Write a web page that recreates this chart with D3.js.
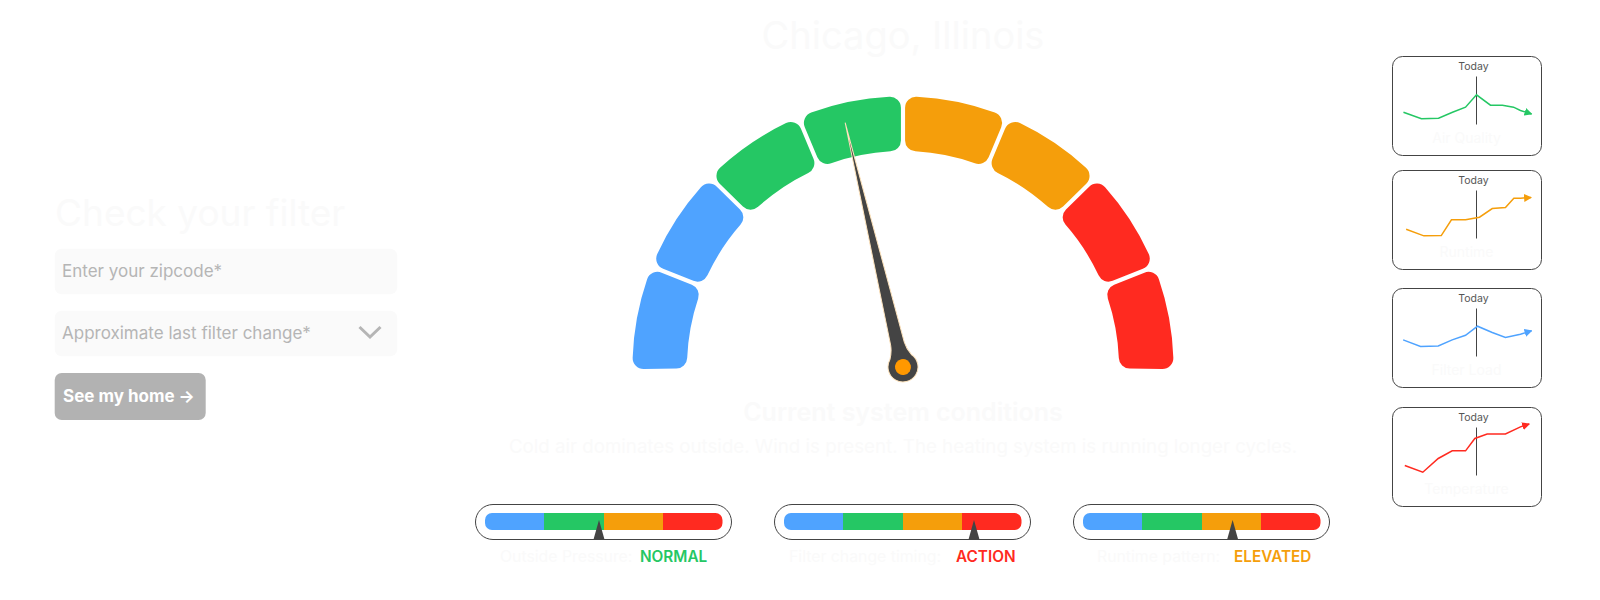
<!DOCTYPE html>
<html>
<head>
<meta charset="utf-8">
<script src="https://cdn.jsdelivr.net/npm/d3@7"></script>
<style>
html, body { margin: 0; padding: 0; background: #fff; }
svg { display: block; }
text { font-family: "Inter", "Noto Sans", sans-serif; }
</style>
</head>
<body>
<div id="chart"></div>
<script>
var colors = { blue: "#4fa3ff", green: "#25c764", orange: "#f59e0b", red: "#ff2a20" };

var gaugeBands = ["blue", "blue", "green", "green", "orange", "orange", "red", "red"];
var needleValue = 42.6;

var meterBands = ["blue", "green", "orange", "red"];
var meterLabels = ["Outside Pressure:", "Filter change timing:", "Runtime pattern:"];
var meterStates = ["NORMAL", "ACTION", "ELEVATED"];
var meterStateColors = ["green", "red", "orange"];
var meterValues = [48, 80, 63];

var sparkNames = ["Air Quality", "Runtime", "Filter Load", "Temperature"];
var sparkColors = ["green", "orange", "blue", "red"];
var sparkX = [
    [7.3, 19.3, 30.7, 40, 48.7, 56, 65.3, 73.3, 80.7, 85.3, 92.7],
    [9.1, 20.9, 32.5, 39.3, 48.7, 58, 66.5, 75.3, 80.9, 85.3, 92.4],
    [7.1, 18.7, 30.5, 39.8, 48.7, 56.7, 66.5, 75.3, 85.3, 92.7],
    [8.2, 20.2, 30.5, 39.8, 48.7, 54.9, 63.1, 75.3, 85.3, 91.1]
];
var sparkY = [
    [43.7, 37.1, 37.7, 43.7, 48.8, 61.3, 50.8, 50.8, 48.8, 45.5, 42],
    [40.7, 34, 34.3, 50.2, 50.2, 52.8, 61.6, 62.6, 72, 72, 72.7],
    [48.1, 41.4, 42, 48.1, 52.8, 61.9, 55.6, 50.5, 53.8, 57.3],
    [41.4, 34.6, 48.5, 56.2, 56.2, 68.7, 73.3, 73.3, 80.4, 83.3]
];

var faint = "#fafafa";
var svg = d3.select("#chart").append("svg").attr("width", 1600).attr("height", 600);

// left form
var form = svg.append("g").attr("class", "form");
form.append("text").attr("x", 55).attr("y", 226).attr("font-size", 37).attr("fill", faint).text("Check your filter");
[248.7, 310.7].forEach(function(y) {
    form.append("rect").attr("x", 54.7).attr("y", y).attr("width", 342.5).attr("height", 45.5).attr("rx", 7).attr("fill", "#fafafa");
});
form.append("text").attr("x", 62).attr("y", 276.5).attr("font-size", 17).attr("fill", "#b5b5b5").text("Enter your zipcode*");
form.append("text").attr("x", 62).attr("y", 339).attr("font-size", 17).attr("fill", "#b5b5b5").text("Approximate last filter change*");
form.append("path").attr("d", "M359.5,327L370,337L380.5,327").attr("fill", "none").attr("stroke", "#b5b5b5").attr("stroke-width", 3);
form.append("rect").attr("x", 54.7).attr("y", 373).attr("width", 151).attr("height", 47).attr("rx", 7).attr("fill", "#b2b2b2");
form.append("text").attr("x", 63).attr("y", 402).attr("font-size", 17).attr("font-weight", 700).attr("fill", "#fff").text("See my home \u2192");

// headings
var midX = 903;
svg.append("text").attr("x", midX).attr("y", 49).attr("text-anchor", "middle").attr("font-size", 38).attr("fill", faint).text("Chicago, Illinois");
svg.append("text").attr("x", midX).attr("y", 421).attr("text-anchor", "middle").attr("font-size", 25).attr("font-weight", 600).attr("fill", faint).text("Current system conditions");
svg.append("text").attr("x", midX).attr("y", 453).attr("text-anchor", "middle").attr("font-size", 18.7).attr("fill", faint).text("Cold air dominates outside. Wind is present. The heating system is running longer cycles.");

// main gauge
var gauge = svg.append("g").attr("transform", "translate(" + midX + ",367)");
var pie = d3.pie().value(1).sort(null).startAngle(-Math.PI / 2 - 0.016).endAngle(Math.PI / 2 + 0.016);
var arc = d3.arc().innerRadius(216).outerRadius(270.5).cornerRadius(11).padAngle(0.012);
gauge.selectAll("path.band")
    .data(pie(gaugeBands))
    .enter().append("path")
    .attr("class", "band")
    .attr("d", arc)
    .attr("fill", function(d) { return colors[d.data]; });

var needleScale = d3.scaleLinear().domain([0, 100]).range([-90, 90]);
var needle = gauge.append("g").attr("transform", "rotate(" + needleScale(needleValue) + ")");
needle.append("path")
    .attr("d", "M0,-251L7,-24Q7.5,-17 11,-10.2A15,15 0 1 1 -11,-10.2Q-7.5,-17 -7,-24Z")
    .attr("fill", "#444")
    .attr("stroke", "#fde3bd")
    .attr("stroke-width", 1);
needle.append("circle").attr("r", 8).attr("fill", "#ff9800");

// small meters
var meterX = [475.5, 774.5, 1073.5];
var meterLabelX = [500, 789, 1097];
var meterStateX = [640, 956, 1234];
var meterScale = d3.scaleLinear().domain([0, 100]).range([9.5, 247]);
var bandScale = d3.scaleBand().domain(meterBands).range([9.5, 247]);

meterValues.forEach(function(value, i) {
    var g = svg.append("g").attr("transform", "translate(" + meterX[i] + ",504.5)");
    g.append("rect").attr("width", 256).attr("height", 35).attr("rx", 17.5)
        .attr("fill", "#fff").attr("stroke", "#444").attr("stroke-width", 1);
    svg.append("clipPath").attr("id", "meter" + i)
        .append("rect").attr("x", 9.5).attr("y", 8.5).attr("width", 237.5).attr("height", 17).attr("rx", 7);
    g.append("g").attr("clip-path", "url(#meter" + i + ")")
        .selectAll("rect")
        .data(meterBands)
        .enter().append("rect")
        .attr("x", function(d) { return bandScale(d); })
        .attr("y", 8.5)
        .attr("width", bandScale.bandwidth())
        .attr("height", 17)
        .attr("shape-rendering", "crispEdges")
        .attr("fill", function(d) { return colors[d]; });
    var mx = meterScale(value);
    g.append("path")
        .attr("d", "M" + mx + ",15.5L" + (mx + 5.5) + ",35L" + (mx - 5.5) + ",35Z")
        .attr("fill", "#444");
    svg.append("text").attr("x", meterLabelX[i]).attr("y", 562).attr("font-size", 15.8).attr("fill", faint).text(meterLabels[i]);
    svg.append("text").attr("x", meterStateX[i]).attr("y", 562).attr("font-size", 15.3).attr("font-weight", 600)
        .attr("fill", colors[meterStateColors[i]]).text(meterStates[i]);
});

// sparkline cards
var cardTop = [56.5, 170.5, 288.5, 407.5];
var cardW = 149, cardH = 99;
var sx = d3.scaleLinear().domain([0, 100]).range([0, 150]);
var sy = d3.scaleLinear().domain([0, 100]).range([cardH, 0]);
var sparkLine = d3.line()
    .x(function(d) { return sx(d[0]); })
    .y(function(d) { return sy(d[1]); });

var defs = svg.append("defs");
sparkColors.forEach(function(c) {
    defs.append("marker").attr("id", "arrow-" + c)
        .attr("viewBox", "0 0 8 8").attr("refX", 7).attr("refY", 4)
        .attr("markerWidth", 8).attr("markerHeight", 8)
        .attr("markerUnits", "userSpaceOnUse").attr("orient", "auto")
        .append("path").attr("d", "M0,0L8,4L0,8Z").attr("fill", colors[c]);
});

sparkNames.forEach(function(name, i) {
    var g = svg.append("g").attr("transform", "translate(1392.5," + cardTop[i] + ")");
    g.append("rect").attr("width", cardW).attr("height", cardH).attr("rx", 10)
        .attr("fill", "#fff").attr("stroke", "#444").attr("stroke-width", 1);
    g.append("text").attr("x", 81).attr("y", 13.5).attr("text-anchor", "middle").attr("font-size", 10.5).attr("fill", "#555").text("Today");
    g.append("line").attr("x1", 84).attr("x2", 84).attr("y1", 20).attr("y2", 68).attr("stroke", "#444").attr("stroke-width", 1);
    g.append("path")
        .attr("d", sparkLine(d3.zip(sparkX[i], sparkY[i])))
        .attr("fill", "none")
        .attr("stroke", colors[sparkColors[i]])
        .attr("stroke-width", 1.5)
        .attr("marker-end", "url(#arrow-" + sparkColors[i] + ")");
    g.append("text").attr("x", 74).attr("y", 86).attr("text-anchor", "middle").attr("font-size", 14).attr("fill", faint).text(name);
});
</script>
</body>
</html>
